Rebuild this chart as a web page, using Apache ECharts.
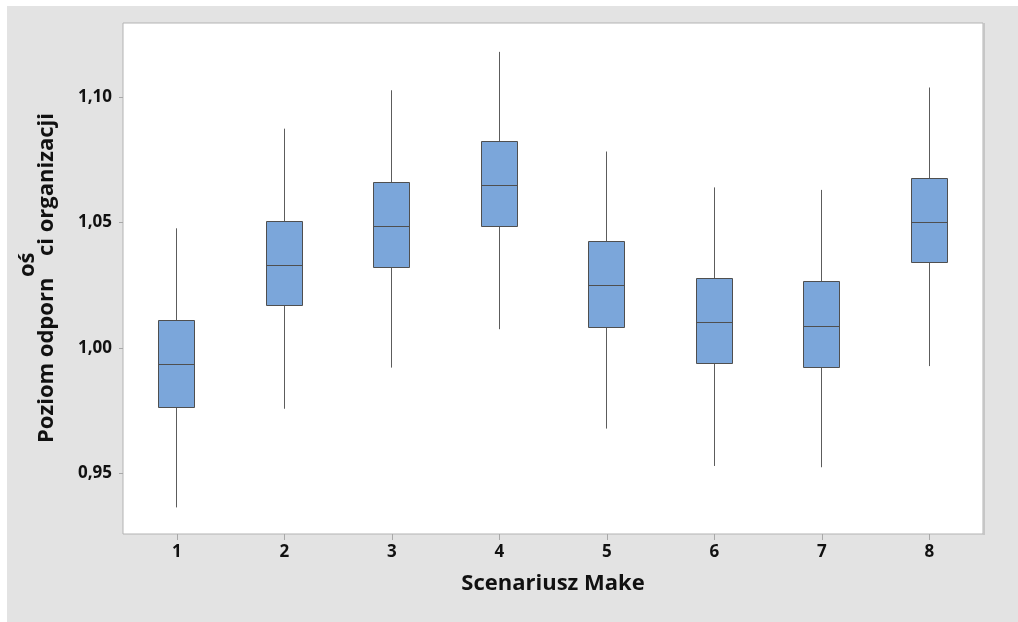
<!DOCTYPE html>
<html>
<head>
<meta charset="utf-8">
<style>
  html, body { margin: 0; padding: 0; background: #ffffff; }
  #chart { width: 1018px; height: 622px; }
</style>
<script src="https://cdn.jsdelivr.net/npm/echarts@6/dist/echarts.min.js"></script>
</head>
<body>
<div id="chart"></div>
<script>
// Scenario labels on the category axis
const categories = ['1', '2', '3', '4', '5', '6', '7', '8'];

// Five-number summary for each scenario
const whiskerLow  = [0.9365, 0.9758, 0.9922, 1.0075, 0.9679, 0.9530, 0.9525, 0.9928];
const q1          = [0.9762, 1.0170, 1.0319, 1.0484, 1.0081, 0.9938, 0.9922, 1.0342];
const median      = [0.9934, 1.0330, 1.0484, 1.0647, 1.0250, 1.0101, 1.0085, 1.0500];
const q3          = [1.0108, 1.0505, 1.0659, 1.0824, 1.0425, 1.0278, 1.0267, 1.0675];
const whiskerHigh = [1.0477, 1.0874, 1.1027, 1.1180, 1.0783, 1.0640, 1.0630, 1.1038];

// Value axis ticks
const yTicks = [0.95, 1.00, 1.05, 1.10];
const yMin = 0.9259;
const yMax = 1.1295;

const rows = categories.map((c, i) => [i, whiskerLow[i], q1[i], median[i], q3[i], whiskerHigh[i]]);

const FONT = '"Open Sans", "Noto Sans", sans-serif';
const BOX_FILL = '#7BA6DA';
const BOX_EDGE = '#4f4f4f';
const WHISKER = '#5c5c5c';

function crisp(v) { return Math.round(v - 0.5) + 0.5; }

function renderBox(params, api) {
  const idx = api.value(0);
  const pLow = api.coord([idx, api.value(1)]);
  const pQ1 = api.coord([idx, api.value(2)]);
  const pMed = api.coord([idx, api.value(3)]);
  const pQ3 = api.coord([idx, api.value(4)]);
  const pHigh = api.coord([idx, api.value(5)]);
  const band = api.size([1, 0])[0];
  const w = band * 0.332;
  const cx = crisp(pMed[0]);
  const x0 = crisp(cx - w / 2);
  const x1 = crisp(cx + w / 2);
  const yQ1 = crisp(pQ1[1]);
  const yQ3 = crisp(pQ3[1]);
  const yMed = crisp(pMed[1]);
  return {
    type: 'group',
    children: [
      { type: 'line', shape: { x1: cx, y1: pHigh[1], x2: cx, y2: yQ3 },
        style: { stroke: WHISKER, lineWidth: 1 } },
      { type: 'line', shape: { x1: cx, y1: yQ1, x2: cx, y2: pLow[1] },
        style: { stroke: WHISKER, lineWidth: 1 } },
      { type: 'rect', shape: { x: x0, y: yQ3, width: x1 - x0, height: yQ1 - yQ3 },
        style: { fill: BOX_FILL, stroke: BOX_EDGE, lineWidth: 1 } },
      { type: 'line', shape: { x1: x0, y1: yMed, x2: x1, y2: yMed },
        style: { stroke: BOX_EDGE, lineWidth: 1 } }
    ]
  };
}

const chart = echarts.init(document.getElementById('chart'), null, { renderer: 'canvas' });

const titleStyle = { fontFamily: FONT, fontSize: 22, fontWeight: 'bold', fill: '#111111' };

chart.setOption({
  backgroundColor: '#e3e3e3',
  animation: false,
  grid: {
    left: 123, top: 23, width: 860, height: 511,
    show: true, backgroundColor: '#ffffff', borderColor: '#b3b3b3', borderWidth: 1
  },
  xAxis: {
    type: 'category',
    data: categories,
    boundaryGap: true,
    name: 'Scenariusz Make',
    nameLocation: 'middle',
    nameGap: 39,
    nameTextStyle: { fontFamily: FONT, fontSize: 22, fontWeight: 'bold', color: '#111111' },
    axisLine: { show: false },
    axisTick: { show: true, alignWithLabel: true, length: 6, lineStyle: { color: '#a8a8a8' } },
    axisLabel: { margin: 10, fontFamily: FONT, fontSize: 17, fontWeight: 'bold', color: '#111111' },
    splitLine: { show: false }
  },
  yAxis: {
    type: 'value',
    min: yMin,
    max: yMax,
    axisLine: { show: false },
    axisTick: { show: true, length: 4, lineStyle: { color: '#a8a8a8' }, customValues: yTicks },
    axisLabel: {
      margin: 11, fontFamily: FONT, fontSize: 17, fontWeight: 'bold', color: '#111111',
      customValues: yTicks,
      formatter: v => v.toFixed(2).replace('.', ',')
    },
    splitLine: { show: false }
  },
  graphic: [
    { type: 'rect', left: 0, top: 0, shape: { width: 1018, height: 6 }, style: { fill: '#ffffff' }, silent: true },
    { type: 'rect', left: 0, top: 0, shape: { width: 7, height: 622 }, style: { fill: '#ffffff' }, silent: true },
    { type: 'rect', x: 983, y: 23, shape: { width: 2, height: 512 }, style: { fill: '#c6c6c6' }, silent: true },
    { type: 'text', x: 47, y: 443, rotation: Math.PI / 2,
      style: Object.assign({ text: 'Poziom odporn', textAlign: 'left', textVerticalAlign: 'middle' }, titleStyle) },
    { type: 'text', x: 28, y: 277, rotation: Math.PI / 2,
      style: Object.assign({ text: 'oś', textAlign: 'left', textVerticalAlign: 'middle' }, titleStyle) },
    { type: 'text', x: 47, y: 256, rotation: Math.PI / 2,
      style: Object.assign({ text: 'ci organizacji', textAlign: 'left', textVerticalAlign: 'middle' }, titleStyle) }
  ],
  series: [{
    type: 'custom',
    renderItem: renderBox,
    encode: { x: 0, y: [1, 2, 3, 4, 5] },
    data: rows,
    clip: false
  }]
});
</script>
</body>
</html>
